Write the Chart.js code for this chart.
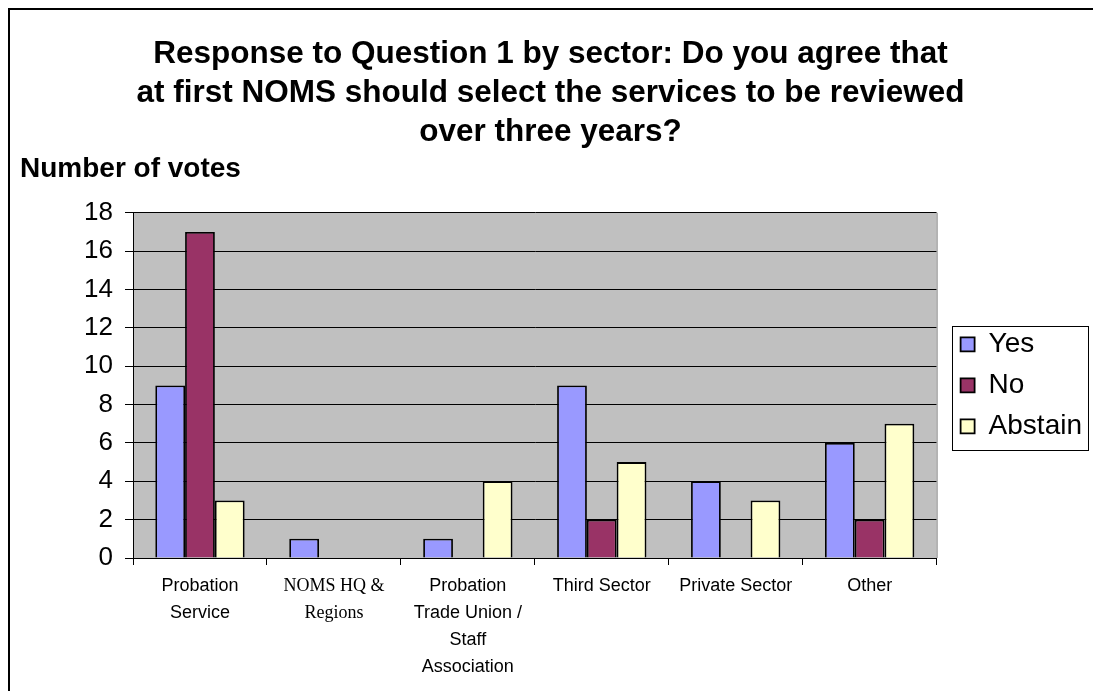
<!DOCTYPE html>
<html>
<head>
<meta charset="utf-8">
<script src="https://cdn.jsdelivr.net/npm/chart.js@4/dist/chart.umd.min.js"></script>
<style>
  html, body { margin: 0; padding: 0; background: #fff; }
  #wrap { width: 1093px; height: 691px; position: relative; }
</style>
</head>
<body>
<div id="wrap"><canvas id="chart" width="1093" height="691"></canvas></div>
<script>
const sectors = [
    ['Probation', 'Service'],
    ['NOMS HQ &', 'Regions'],
    ['Probation', 'Trade Union /', 'Staff', 'Association'],
    'Third Sector',
    'Private Sector',
    'Other'
];
const yesVotes = [9, 1, 1, 9, 4, 6];
const noVotes = [17, 0, 0, 2, 0, 2];
const abstainVotes = [3, 0, 4, 5, 3, 7];
const yTicks = [0, 2, 4, 6, 8, 10, 12, 14, 16, 18];

const sans = "'Liberation Sans', Arial, sans-serif";
const serif = "'Liberation Serif', 'Times New Roman', serif";
const legendShift = 11;
const legendPad = 13;

// grey plot area, page frame and a box round the legend
const decorations = {
    id: 'decorations',
    beforeDraw(chart) {
        const a = chart.chartArea;
        const ctx = chart.ctx;
        ctx.save();
        ctx.fillStyle = '#c0c0c0';
        ctx.fillRect(a.left, a.top, a.right - a.left, a.bottom - a.top);
        ctx.restore();
    },
    afterLayout(chart) {
        const lg = chart.legend;
        lg.left += legendShift;
        lg.right += legendShift;
    },
    afterDraw(chart) {
        const ctx = chart.ctx;
        const a = chart.chartArea;
        ctx.save();
        ctx.strokeStyle = '#808080';
        ctx.lineWidth = 1;
        ctx.beginPath();
        ctx.moveTo(a.right + 0.5, a.top);
        ctx.lineTo(a.right + 0.5, a.bottom);
        ctx.stroke();

        // legend frame
        const lg = chart.legend;
        const hb = lg.legendHitBoxes;
        if (hb && hb.length) {
            const x0 = lg.left + legendPad - 9;
            const w = Math.max(...hb.map(h => h.width));
            const y0 = hb[0].top - 4;
            const y1 = hb[hb.length - 1].top + hb[hb.length - 1].height + 10;
            ctx.strokeStyle = '#000';
            ctx.lineWidth = 1;
            ctx.strokeRect(Math.round(x0) + 0.5, Math.round(y0) + 0.5, Math.round(w + 15), Math.round(y1 - y0));
        }

        // outer frame, top and left edges only
        ctx.strokeStyle = '#000';
        ctx.lineWidth = 2;
        ctx.beginPath();
        ctx.moveTo(9, 691);
        ctx.lineTo(9, 9);
        ctx.lineTo(1093, 9);
        ctx.stroke();
        ctx.restore();
    }
};

const ctx = document.getElementById('chart').getContext('2d');
new Chart(ctx, {
    type: 'bar',
    data: {
        labels: sectors,
        datasets: [
            { label: 'Yes', data: yesVotes, backgroundColor: '#9999ff' },
            { label: 'No', data: noVotes, backgroundColor: '#993366' },
            { label: 'Abstain', data: abstainVotes, backgroundColor: '#ffffcc' }
        ]
    },
    options: {
        responsive: false,
        animation: false,
        devicePixelRatio: 1,
        layout: { padding: { left: 20, right: 12, top: 0, bottom: 0 } },
        datasets: {
            bar: {
                borderColor: '#000',
                borderWidth: 1.8,
                categoryPercentage: 0.667,
                barPercentage: 1.0
            }
        },
        plugins: {
            title: {
                display: true,
                text: [
                    'Response to Question 1 by sector: Do you agree that',
                    'at first NOMS should select the services to be reviewed',
                    'over three years?'
                ],
                color: '#000',
                font: { family: sans, size: 31.5, weight: 'bold', lineHeight: 1.24 },
                padding: { top: 35, bottom: 0 }
            },
            subtitle: {
                display: true,
                text: 'Number of votes',
                align: 'start',
                color: '#000',
                font: { family: sans, size: 28, weight: 'bold', lineHeight: 1.2 },
                padding: { top: 0, bottom: 27 }
            },
            legend: {
                position: 'right',
                fullSize: false,
                labels: {
                    color: '#000',
                    font: { family: sans, size: 28 },
                    boxWidth: 14,
                    boxHeight: 14,
                    padding: legendPad
                }
            },
            tooltip: { enabled: false }
        },
        scales: {
            x: {
                grid: {
                    offset: true,
                    drawOnChartArea: false,
                    color: '#000',
                    tickLength: 7
                },
                border: { color: '#000', width: 1 },
                ticks: {
                    color: '#000',
                    maxRotation: 0,
                    autoSkip: false,
                    padding: 8,
                    font: (c) => c.index === 1
                        ? { family: serif, size: 18, lineHeight: 1.5 }
                        : { family: sans, size: 18, lineHeight: 1.5 }
                },
                afterFit(scale) { scale.height = 133; }
            },
            y: {
                min: 0,
                max: 18,
                afterBuildTicks(scale) {
                    scale.ticks = yTicks.map(v => ({ value: v }));
                },
                grid: { color: '#000', tickLength: 8 },
                border: { color: '#000', width: 1 },
                ticks: {
                    color: '#000',
                    padding: 12,
                    font: { family: sans, size: 26 }
                },
                afterFit(scale) { scale.width = 113; }
            }
        }
    },
    plugins: [decorations]
});
</script>
</body>
</html>
